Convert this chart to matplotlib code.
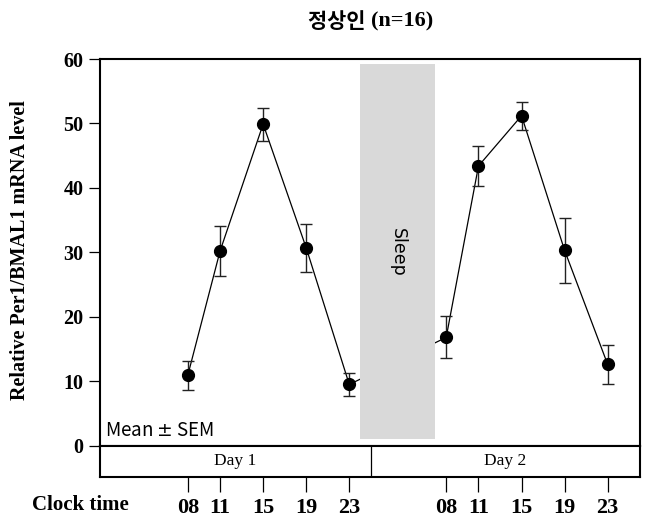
import matplotlib
matplotlib.use("Agg")
import matplotlib.pyplot as plt
import matplotlib.patches as patches
import numpy as np

# hours counted from 00:00 of day 1
hours = [8, 11, 15, 19, 23, 32, 35, 39, 43, 47]
tick_labels = ["08", "11", "15", "19", "23", "08", "11", "15", "19", "23"]
means = [10.9, 30.2, 49.9, 30.7, 9.5, 16.8, 43.4, 51.2, 30.3, 12.6]
sem = [2.25, 3.85, 2.55, 3.7, 1.85, 3.25, 3.05, 2.2, 5.05, 2.95]
days = ["Day 1", "Day 2"]
sleep_span = (24, 31)
day_split = 25

serif = "Liberation Serif"
W, H, dpi = 648, 532, 100
fig = plt.figure(figsize=(W / dpi, H / dpi), dpi=dpi)

def box(x0, y0, x1, y1):
    # pixel box -> figure fraction
    return [x0 / W, 1 - y1 / H, (x1 - x0) / W, (y1 - y0) / H]

ax = fig.add_axes(box(100, 59, 640, 445.7))
ax.set_xlim(-0.15, 50)
ax.set_ylim(0, 60)

ax.plot(hours, means, color="black", lw=0.9, zorder=1)
ax.add_patch(patches.Rectangle((sleep_span[0], 1.0), sleep_span[1] - sleep_span[0], 58.3,
                               facecolor="#d9d9d9", edgecolor="none", zorder=2))
ax.errorbar(hours, means, yerr=sem, fmt="o", color="black", ms=8.5, ecolor="#222222",
            elinewidth=1.0, capsize=4.5, capthick=1.0, zorder=3)

ax.text(sum(sleep_span) / 2, 30, "Sleep", rotation=270, ha="center", va="center",
        fontsize=12.5, family="DejaVu Sans")
ax.text(0.3, 0.8, "Mean $\\pm$ SEM", ha="left", va="bottom", fontsize=13.5,
        family="Noto Sans CJK KR")

ax.set_xticks([])
ax.set_yticks(np.arange(0, 61, 10))
ax.tick_params(axis="y", direction="out", length=8, width=0.9, pad=4)
for lab in ax.get_yticklabels():
    lab.set_fontfamily(serif)
    lab.set_fontweight("bold")
    lab.set_fontsize(14.5)
for s in ax.spines.values():
    s.set_linewidth(1.5)
ax.set_ylabel("Relative Per1/BMAL1 mRNA level", family=serif, fontweight="bold",
              fontsize=14.5)
ax.yaxis.set_label_coords(-(100 - 30) / 540, (445.7 - 250) / 386.7)

# day strip under the plot
dx = fig.add_axes(box(100, 445.7, 640, 477))
dx.set_xlim(ax.get_xlim())
dx.set_ylim(0, 1)
dx.axvline(day_split, color="black", lw=0.9)
dx.text((ax.get_xlim()[0] + day_split) / 2, 0.5, days[0], ha="center", va="center",
        family=serif, fontsize=12.5)
dx.text((ax.get_xlim()[1] + day_split) / 2, 0.5, days[1], ha="center", va="center",
        family=serif, fontsize=12.5)
dx.set_yticks([])
dx.set_xticks(hours)
dx.set_xticklabels(tick_labels, family=serif, fontweight="bold", fontsize=16)
dx.tick_params(axis="x", direction="out", length=11, width=0.9, pad=4)
for s in dx.spines.values():
    s.set_linewidth(1.5)

fig.text(80 / W, 1 - 505 / H, "Clock time", ha="center", va="center", family=serif,
         fontweight="bold", fontsize=15)

fig.text(370 / W, 1 - 21 / H, "정상인 ", ha="right", va="center",
         family="Noto Sans CJK KR", fontweight="bold", fontsize=15)
fig.text(371 / W, 1 - 21 / H, "(n=16)", ha="left", va="center",
         family=serif, fontweight="bold", fontsize=16)

fig.savefig("out.png", dpi=dpi)
